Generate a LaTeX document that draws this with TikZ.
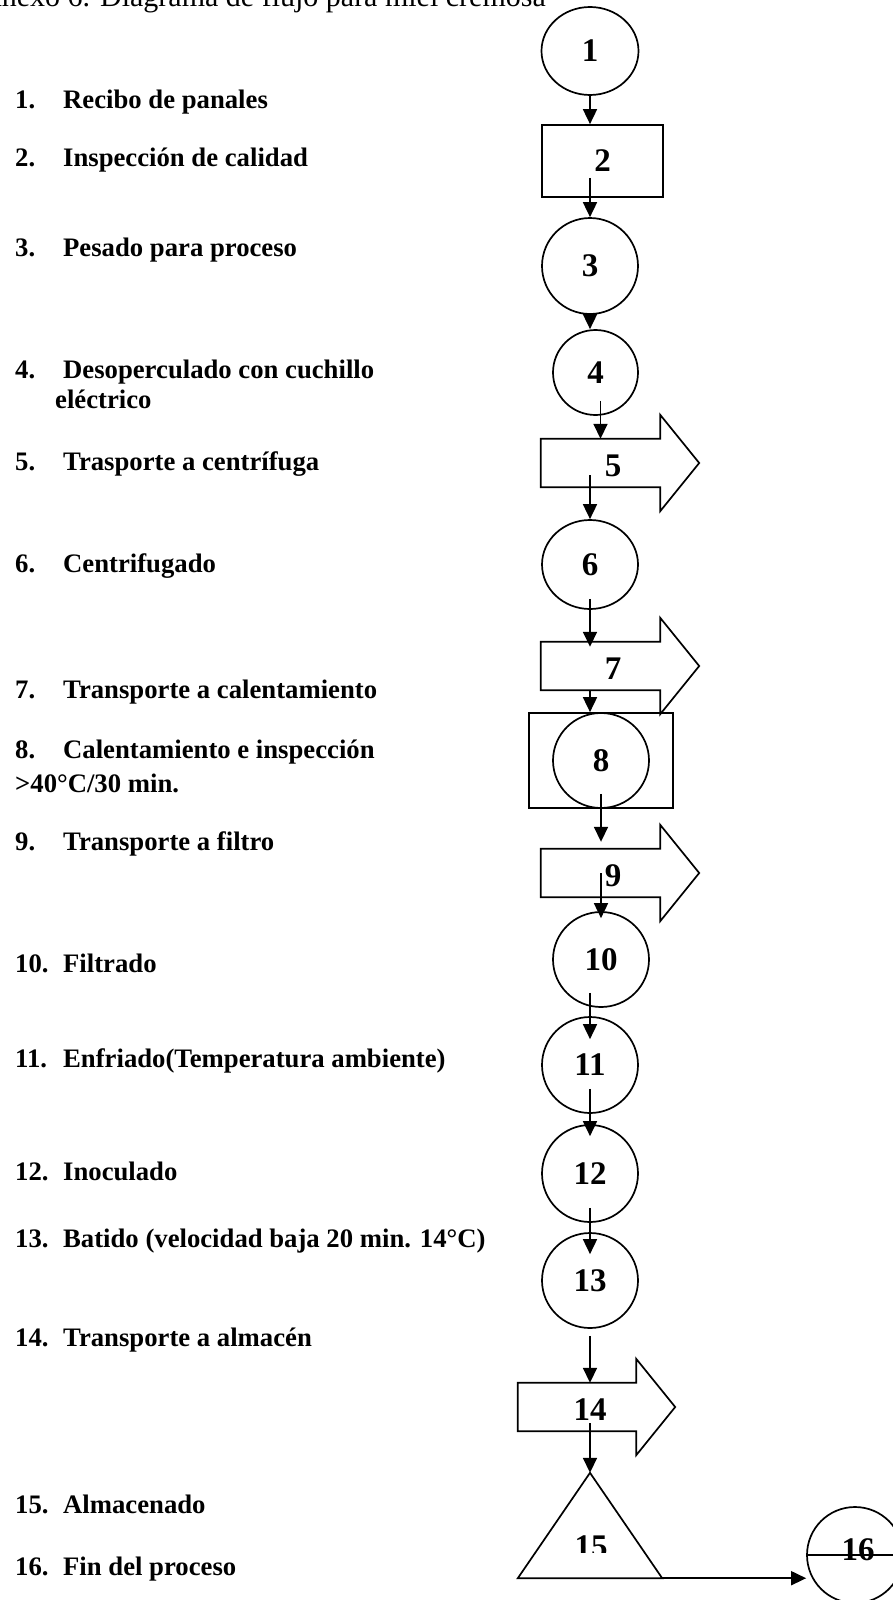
\documentclass[tikz,border=0pt]{standalone}
\usepackage{fontspec}
\setmainfont{Liberation Serif}
\usetikzlibrary{shapes.geometric,arrows.meta,calc}

\tikzset{
  paso/.style={anchor=base west, inner sep=0pt, font=\fontsize{26.7}{30}\selectfont\bfseries},
  circ/.style={draw, ellipse, line width=1.7pt, inner sep=0pt, font=\fontsize{33}{36}\selectfont\bfseries},
  caja/.style={draw, rectangle, line width=1.7pt, inner sep=0pt, font=\fontsize{33}{36}\selectfont\bfseries},
  cuerpo/.style={rectangle, inner sep=0pt, minimum width=119pt, minimum height=48pt},
  etiq/.style={inner sep=0pt, font=\fontsize{33}{36}\selectfont\bfseries},
  forma/.style={line width=1.7pt, line join=miter},
  flecha/.style={-{Triangle[length=15pt,width=14pt]}, line width=1.7pt}
}

\begin{document}
\begin{tikzpicture}[x=1pt,y=-1pt]
        \useasboundingbox (0,0) rectangle (892,1600);
        % titulo, cortado arriba
        \node[anchor=base east, inner sep=0pt, font=\fontsize{30}{34}\selectfont] (titulo) at (546,7) {Anexo 6. Diagrama de flujo para miel cremosa};
        % lista de pasos
        \node[paso] (p1) at (15,109) {\makebox[48pt][l]{1.}Recibo de panales};
        \node[paso] (p2) at (15,166) {\makebox[48pt][l]{2.}Inspección de calidad};
        \node[paso] (p3) at (15,256) {\makebox[48pt][l]{3.}Pesado para proceso};
        \node[paso] (p4) at (15,378) {\makebox[48pt][l]{4.}Desoperculado con cuchillo};
        \node[paso] (p4b) at (55,408) {eléctrico};
        \node[paso] (p5) at (15,470) {\makebox[48pt][l]{5.}Trasporte a centrífuga};
        \node[paso] (p6) at (15,572) {\makebox[48pt][l]{6.}Centrifugado};
        \node[paso] (p7) at (15,698) {\makebox[48pt][l]{7.}Transporte a calentamiento};
        \node[paso] (p8) at (15,758) {\makebox[48pt][l]{8.}Calentamiento e inspección};
        \node[paso] (p8b) at (15,792) {>40°C/30 min.};
        \node[paso] (p9) at (15,850) {\makebox[48pt][l]{9.}Transporte a filtro};
        \node[paso] (p10) at (15,972) {\makebox[48pt][l]{10.}Filtrado};
        \node[paso] (p11) at (15,1067) {\makebox[48pt][l]{11.}Enfriado(Temperatura ambiente)};
        \node[paso] (p12) at (15,1180) {\makebox[48pt][l]{12.}Inoculado};
        \node[paso] (p13) at (15,1247) {\makebox[48pt][l]{13.}Batido (velocidad baja 20 min. 14°C)};
        \node[paso] (p14) at (15,1346) {\makebox[48pt][l]{14.}Transporte a almacén};
        \node[paso] (p15) at (15,1513) {\makebox[48pt][l]{15.}Almacenado};
        \node[paso] (p16) at (15,1575) {\makebox[48pt][l]{16.}Fin del proceso};
        % diagrama
        \node[circ, minimum width=97pt, minimum height=88pt] (c1) at (590,51) {1};
        \node[caja, minimum width=121pt, minimum height=72pt] (b2) at (602.5,161) {2};
        \node[circ, minimum width=96pt, minimum height=96pt] (c3) at (590,266) {3};
        \node[circ, minimum width=85pt, minimum height=85pt] (c4) at (595.5,372.5) {4};
        \node[cuerpo] (a5) at (600.5,463) {};
        \node[etiq] (l5) at (613,466) {5};
        \node[circ, minimum width=96pt, minimum height=89pt] (c6) at (590,564.5) {6};
        \node[cuerpo] (a7) at (600.5,666) {};
        \node[etiq] (l7) at (613,669) {7};
        \node[caja, minimum width=144pt, minimum height=95pt] (b8) at (601,760.5) {};
        \node[circ, minimum width=96pt, minimum height=95pt] (c8) at (601,760.5) {8};
        \node[cuerpo] (a9) at (600.5,873) {};
        \node[etiq] (l9) at (613,876) {9};
        \node[circ, minimum width=96pt, minimum height=95pt] (c10) at (601,959.5) {10};
        \node[circ, minimum width=96pt, minimum height=96pt] (c11) at (590,1065) {11};
        \node[circ, minimum width=96pt, minimum height=97pt] (c12) at (590,1173.5) {12};
        \node[circ, minimum width=96pt, minimum height=95pt] (c13) at (590,1280.5) {13};
        \node[cuerpo, minimum width=118pt] (a14) at (577,1407) {};
        \node[etiq] (l14) at (590,1410) {14};
        \node[inner sep=0pt, minimum width=144pt, minimum height=105pt] (t15) at (590,1525.5) {};
        \draw[forma] (t15.north) -- (t15.south east) -- (t15.south west) -- cycle;
        \begin{scope}
          \clip (500,1400) rectangle (700,1552);
          \node[etiq] (l15) at (591,1546.5) {15};
        \end{scope}
        \node[circ, minimum width=96pt, minimum height=96pt] (c16) at (855,1555) {};
        \node[etiq] (l16) at (858,1550) {16};
        % flechas de bloque
        \foreach \a in {a5,a7,a9,a14}
          \draw[forma] (\a.north west) -- (\a.north east) -- ++(0,-24) -- ($(\a.east)+(39,0)$)
            -- ($(\a.south east)+(0,24)$) -- (\a.south east) -- (\a.south west) -- cycle;
        % conectores
        \draw[flecha] (c1.south) -- (c1.south |- b2.north);
        \draw[flecha] ($(b2.south -| c3.north)+(0,-20)$) -- (c3.north);
        \draw[flecha] (c3.south) -- (c3.south |- c4.north);
        \draw[flecha] ($(c4.south)+(5,-15)$) -- ($(c4.south |- a5.north)+(5,0)$);
        \draw[flecha] ($(a5.south -| c6.north)+(0,-12)$) -- (c6.north);
        \draw[flecha] ($(c6.south)+(0,-11)$) -- ($(c6.south |- a7.north)+(0,5)$);
        \draw[flecha] (a7.south -| c6.south) -- (b8.north -| c6.south);
        \draw[flecha] ($(c8.south)+(0,-15)$) -- ($(c8.south |- a9.north)+(0,-7)$);
        \draw[flecha] (a9.center -| c10.north) -- ($(c10.north)+(0,7)$);
        \draw[flecha] ($(c10.south -| c11.north)+(0,-15)$) -- ($(c11.north)+(0,23)$);
        \draw[flecha] ($(c11.south)+(0,-25)$) -- ($(c12.north)+(0,12)$);
        \draw[flecha] ($(c12.south)+(0,-15)$) -- ($(c13.north)+(0,22)$);
        \draw[flecha] ($(c13.south)+(0,7)$) -- (c13.south |- a14.north);
        \draw[flecha] ($(a14.south -| t15.north)+(0,-8)$) -- (t15.north);
        \draw[flecha] (t15.south east) -- (t15.south east -| c16.west);
        \draw[forma] (c16.west) -- (c16.east);
\end{tikzpicture}
\end{document}
